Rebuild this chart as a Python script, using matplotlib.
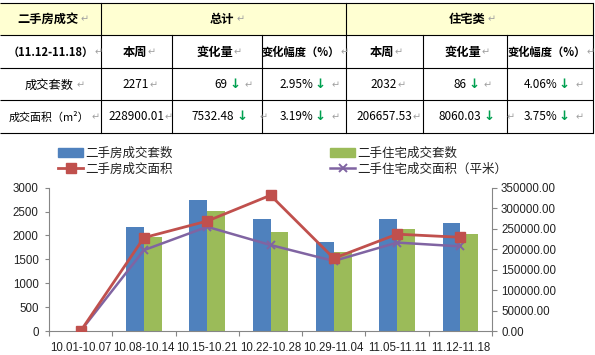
import matplotlib
matplotlib.use('Agg')
import matplotlib.pyplot as plt
import numpy as np
from matplotlib.lines import Line2D
from matplotlib.patches import Patch, Rectangle
from matplotlib.ticker import FormatStrFormatter, FixedLocator

plt.rcParams['font.family'] = ['Noto Sans CJK SC', 'DejaVu Sans']

# ---------------- data ----------------
categories = ['10.01-10.07', '10.08-10.14', '10.15-10.21', '10.22-10.28',
              '10.29-11.04', '11.05-11.11', '11.12-11.18']
units_total = [0, 2180, 2750, 2355, 1855, 2340, 2271]
units_resid = [0, 1975, 2510, 2070, 1660, 2125, 2032]
area_total = [0, 228000, 268500, 331500, 177500, 236500, 228900.01]
area_resid = [0, 197500, 254500, 210000, 171000, 216000, 206657.53]
series_names = ['二手房成交套数', '二手房成交面积', '二手住宅成交套数', '二手住宅成交面积（平米）']
left_ticks = [0, 500, 1000, 1500, 2000, 2500, 3000]
right_ticks = [0, 50000, 100000, 150000, 200000, 250000, 300000, 350000]

table_title = '二手房成交'
table_period = '（11.12-11.18）'
group_names = ['总计', '住宅类']
sub_headers = ['本周', '变化量', '变化幅度（%）']
row_names = ['成交套数', '成交面积（m²）']
total_week = ['2271', '228900.01']
total_change = ['69', '7532.48']
total_pct = ['2.95%', '3.19%']
resid_week = ['2032', '206657.53']
resid_change = ['86', '8060.03']
resid_pct = ['4.06%', '3.75%']

# ---------------- figure ----------------
W, H = 595, 355
fig = plt.figure(figsize=(W / 100, H / 100), dpi=100)
fig.patch.set_facecolor('white')

# overlay for the table (pixel coordinates)
tab = fig.add_axes([0, 0, 1, 1])
tab.set_xlim(0, W)
tab.set_ylim(H, 0)
tab.axis('off')

col_x = [0, 101, 172, 262, 346, 423, 507, 592.5]
row_y = [3, 35, 68, 100, 133]
lw = 0.8
tab.add_patch(Rectangle((0, row_y[0]), col_x[-1], row_y[1] - row_y[0],
                        facecolor='#FFFFD2', edgecolor='none', zorder=0))
for yy in row_y:
    tab.plot([0, col_x[-1]], [yy, yy], color='black', lw=lw, solid_capstyle='butt')
for xx in [101, 346, 592.5]:
    tab.plot([xx, xx], [row_y[0], row_y[1]], color='black', lw=lw)
for xx in col_x[1:]:
    tab.plot([xx, xx], [row_y[1], row_y[-1]], color='black', lw=lw)

TFS = 8.8
GRAY = '#A0A0A0'
GREEN = '#00A050'


def mark(artist, gap=1.5):
    return tab.annotate('↵', xy=(1, 0.5), xycoords=artist, xytext=(gap, 0),
                        textcoords='offset points', va='center', ha='left',
                        fontsize=7, color=GRAY, family=['DejaVu Sans'])


def arrow(artist, gap=1.5):
    return tab.annotate('↓', xy=(1, 0.5), xycoords=artist, xytext=(gap, 0),
                        textcoords='offset points', va='center', ha='left',
                        fontsize=9.5, color=GREEN, fontweight='bold',
                        family=['DejaVu Sans'])


# header row 1
t = tab.text(48, 19, table_title, ha='center', va='center', fontsize=TFS, fontweight='bold')
mark(t)
t = tab.text(222, 19, group_names[0], ha='center', va='center', fontsize=TFS, fontweight='bold')
mark(t)
t = tab.text(467, 19, group_names[1], ha='center', va='center', fontsize=TFS, fontweight='bold')
mark(t)

# header row 2
t = tab.text(51, 52, table_period, ha='center', va='center', fontsize=TFS - 0.8, fontweight='bold')
mark(t, 0)
sub_cx = [135, 215, 301, 382, 463, 547]
for i, cx in enumerate(sub_cx):
    fs = TFS if i % 3 != 2 else 8.1
    t = tab.text(cx, 52, sub_headers[i % 3], ha='center', va='center',
                 fontsize=fs, fontweight='bold')
    mark(t, 0.2)

# data rows
row_cy = [85, 117]
name_x = [25, 9]
name_fs = [TFS, 7.9]
for r in range(2):
    y = row_cy[r]
    t = tab.text(name_x[r], y, row_names[r], ha='left', va='center', fontsize=name_fs[r])
    mark(t, 1.5)
    t = tab.text(136, y, total_week[r], ha='center', va='center', fontsize=TFS - 0.3)
    mark(t, 0.5)
    t = tab.text(227 if r == 0 else 234, y, total_change[r], ha='right', va='center', fontsize=TFS - 0.3)
    a = arrow(t, 1.5)
    mark(a, 3 if r == 0 else 9)
    t = tab.text(313, y, total_pct[r], ha='right', va='center', fontsize=TFS - 0.3)
    a = arrow(t, 1)
    mark(a, 4)
    t = tab.text(384, y, resid_week[r], ha='center', va='center', fontsize=TFS - 0.3)
    mark(t, 0.5)
    t = tab.text(466 if r == 0 else 481, y, resid_change[r], ha='right', va='center', fontsize=TFS - 0.3)
    a = arrow(t, 1.5)
    mark(a, 3 if r == 0 else 9)
    t = tab.text(557, y, resid_pct[r], ha='right', va='center', fontsize=TFS - 0.3)
    a = arrow(t, 1)
    mark(a, 4)

# ---------------- chart ----------------
AX_L, AX_R, AX_B, AX_T = 49, 492, 331, 187.7
ax = fig.add_axes([AX_L / W, (H - AX_B) / H, (AX_R - AX_L) / W, (AX_B - AX_T) / H])
ax.set_facecolor('none')
x = np.arange(len(categories))
w = 0.28
b1 = ax.bar(x - w / 2, units_total, w, color='#4F81BD', zorder=2)
b2 = ax.bar(x + w / 2, units_resid, w, color='#9BBB59', zorder=2)
ax.set_xlim(-0.5, len(categories) - 0.5)
ax.set_ylim(left_ticks[0], left_ticks[-1])
ax.set_yticks(left_ticks)
ax.set_xticks(x)
ax.set_xticklabels(categories)
ax.xaxis.set_minor_locator(FixedLocator(np.arange(-0.5, len(categories), 1.0)))

ax2 = ax.twinx()
ax2.set_ylim(right_ticks[0], right_ticks[-1])
ax2.set_yticks(right_ticks)
ax2.yaxis.set_major_formatter(FormatStrFormatter('%.2f'))
l1, = ax2.plot(x, area_total, color='#C0504D', lw=2, marker='s', ms=6.5, zorder=4)
l2, = ax2.plot(x, area_resid, color='#8064A2', lw=1.8, marker='x', ms=6, mew=1.4, zorder=3)

SPC = '#868686'
for a_ in (ax, ax2):
    for s in a_.spines.values():
        s.set_color(SPC)
        s.set_linewidth(0.8)
    a_.spines['top'].set_visible(False)
ax.spines['right'].set_visible(False)
ax2.spines['left'].set_visible(False)
ax2.spines['bottom'].set_visible(False)

ax.tick_params(axis='x', which='major', length=0, pad=8, labelsize=8.3, colors='#222222')
ax.tick_params(axis='x', which='minor', length=3.5, width=0.8, color=SPC, direction='out')
ax.tick_params(axis='y', length=3, width=0.8, color=SPC, pad=4.5, labelsize=8.3, labelcolor='#222222')
ax2.tick_params(axis='y', length=3.5, width=0.8, color=SPC, pad=3, labelsize=8.3, labelcolor='#222222')
for lab in ax.get_xticklabels() + ax.get_yticklabels() + ax2.get_yticklabels():
    lab.set_family(['Liberation Sans', 'DejaVu Sans'])

# legends
leg_kw = dict(frameon=False, fontsize=9, loc='upper left', borderpad=0, borderaxespad=0,
              handlelength=2.0, handletextpad=0.2, labelspacing=0.2)
h_red = Line2D([], [], color='#C0504D', lw=2, marker='s', ms=6.5)
h_pur = Line2D([], [], color='#8064A2', lw=1.8, marker='x', ms=6, mew=1.4)
leg1 = fig.legend([Patch(color='#4F81BD'), h_red], [series_names[0], series_names[1]],
                  bbox_to_anchor=(58 / W, 1 - 147 / H), **leg_kw)
leg2 = fig.legend([Patch(color='#9BBB59'), h_pur], [series_names[2], series_names[3]],
                  bbox_to_anchor=(330 / W, 1 - 147 / H), **leg_kw)
for lg in (leg1, leg2):
    for txt in lg.get_texts():
        txt.set_color('#222222')

fig.savefig('out.png', dpi=100, facecolor='white')
